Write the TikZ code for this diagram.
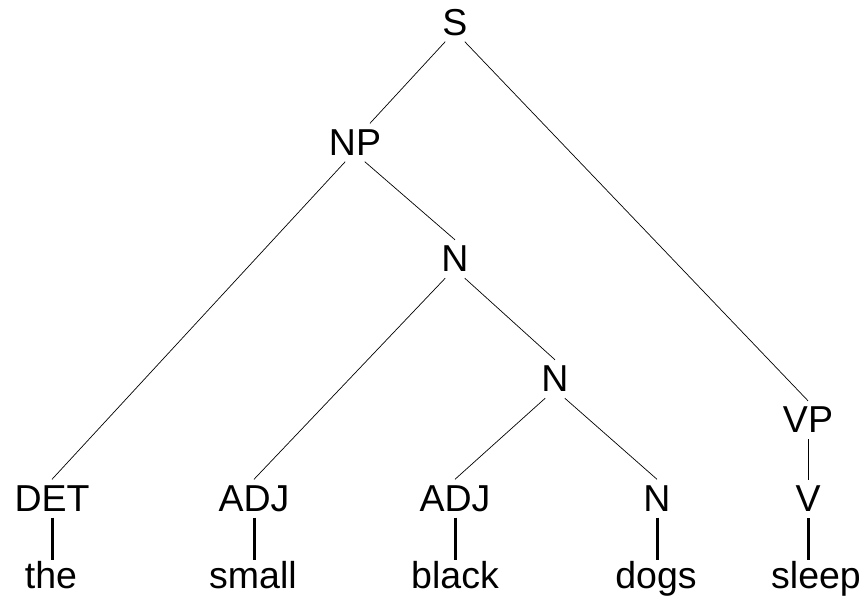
\documentclass[tikz,border=0pt]{standalone}
\usepackage{fontspec}
\setmainfont{Liberation Sans}
\begin{document}
\begin{tikzpicture}[x=1pt, y=-1pt,
    cat/.style={inner sep=0pt, minimum height=38pt, font=\fontsize{37.5}{44}\selectfont},
    word/.style={anchor=base, inner sep=1pt, font=\fontsize{37.5}{44}\selectfont},
    branch/.style={line width=0.7pt},
    leaf/.style={line width=3pt}]
    \useasboundingbox (0,0) rectangle (865,600);

    \node (s) [cat] at (455,22.5) {S};
    \node (np) [cat] at (355,142.5) {NP};
    \node (nbar) [cat] at (455,259) {N};
    \node (nsub) [cat] at (555,379) {N};
    \node (vp) [cat] at (808,420) {VP};

    \node (det) [cat] at (52,498.5) {DET};
    \node (adjsmall) [cat] at (254,498.5) {ADJ};
    \node (adjblack) [cat] at (455,498.5) {ADJ};
    \node (noun) [cat] at (657,498.5) {N};
    \node (verb) [cat] at (808,499) {V};

    \node (the) [word] at (51,588) {the};
    \node (small) [word] at (253,588) {small};
    \node (black) [word] at (455,588) {black};
    \node (dogs) [word] at (656,588) {dogs};
    \node (sleep) [word] at (816,588) {sleep};

    \draw [branch] (s.-117) -- (np.52);
    \draw [branch] (s.-63) -- (vp.north);
    \draw [branch] (np.-117) -- (det.north);
    \draw [branch] (np.-63) -- (nbar.north);
    \draw [branch] (nbar.-117) -- (adjsmall.north);
    \draw [branch] (nbar.-63) -- (nsub.north);
    \draw [branch] (nsub.-117) -- (adjblack.north);
    \draw [branch] (nsub.-63) -- (noun.north);
    \draw [branch] (vp.south) -- (verb.north);

    \draw [leaf] (det.south) -- (det.south |- the.north);
    \draw [leaf] (adjsmall.south) -- (adjsmall.south |- small.north);
    \draw [leaf] (adjblack.south) -- (adjblack.south |- black.north);
    \draw [leaf] (noun.south) -- (noun.south |- dogs.north);
    \draw [leaf] (verb.south) -- (verb.south |- sleep.north);
\end{tikzpicture}
\end{document}
